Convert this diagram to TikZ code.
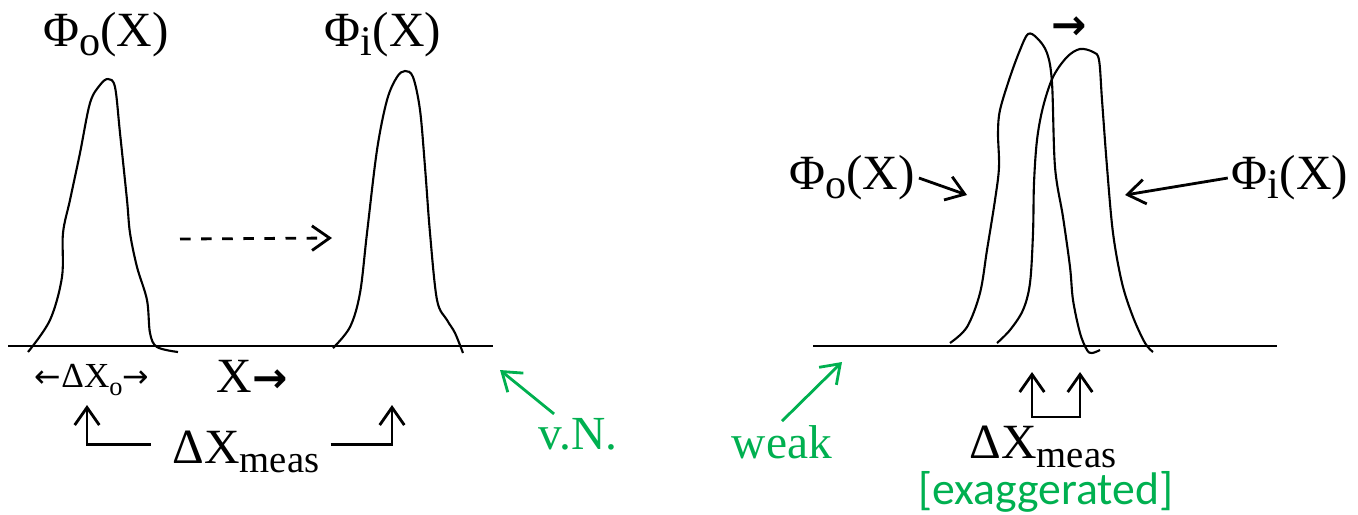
\documentclass[tikz,border=0pt]{standalone}
\usepackage{fontspec}
\setmainfont{Liberation Serif}
\newfontfamily\calfont{Carlito}
\newfontfamily\arrfont{DejaVu Sans}
\usetikzlibrary{arrows.meta,positioning}
\definecolor{notegreen}{RGB}{0,176,80}
\newcommand\lowsub[3]{\raisebox{-#2}{\fontsize{#1}{#1}\selectfont #3}}
\newcommand\bigarr{{\arrfont\bfseries →}}

\begin{document}
\begin{tikzpicture}[x=0.01cm,y=-0.01cm,>={Straight Barb[length=5pt,width=7pt]},
  curve/.style={line width=0.6pt,smooth,tension=0.55},
  axis/.style={line width=0.7pt},
  lbl/.style={inner sep=1pt,font=\fontsize{14}{16}\selectfont},
  small/.style={inner sep=1pt,font=\fontsize{10}{12}\selectfont},
  note/.style={inner sep=1pt,text=notegreen,font=\fontsize{13.5}{16}\selectfont},
  conn/.style={line width=0.8pt,->},
  notearr/.style={line width=0.8pt,->,draw=notegreen}]
  \useasboundingbox (0,0) rectangle (1358,514);
  \draw[axis] (8,346) -- (493,346);
  \draw[axis] (813,346) -- (1277,346);
  \draw[curve] plot coordinates {(28,352) (50,320) (62,277) (63,233) (70,200) (80,153) (90,103) (100,85) (108,79) (115,87) (120,133) (127,200) (130,233) (137,267) (147,300) (150,333) (157,347) (178,352)};
  \draw[curve] plot coordinates {(333,348) (350,327) (360,293) (367,233) (377,150) (387,100) (397,77) (405,71) (413,77) (420,110) (425,167) (430,233) (437,300) (447,320) (455,333) (463,353)};
  \draw[curve] plot coordinates {(950,343) (967,327) (980,293) (987,250) (995,200) (999,167) (998,133) (1000,110) (1010,77) (1020,50) (1028,34) (1037,38) (1047,53) (1052,83) (1055,167) (1063,217) (1070,267) (1073,300) (1080,333) (1087,350) (1092,353) (1100,350)};
  \draw[curve] plot coordinates {(997,343) (1010,330) (1023,310) (1030,283) (1033,233) (1034,183) (1037,140) (1043,107) (1053,77) (1067,57) (1080,49) (1093,52) (1099,60) (1102,100) (1107,167) (1113,233) (1122,283) (1133,317) (1145,343) (1153,352)};
  \node[lbl] (phioL) at (106,35) {Φ\lowsub{12}{2.5pt}{o}(X)};
  \node[lbl] (phiiL) at (383,35) {Φ\lowsub{12}{2.5pt}{i}(X)};
  \node[small] (dxo) at (92,380) {{\arrfont\fontsize{9}{9}\selectfont ←}ΔX\lowsub{7.5}{2pt}{o}{\arrfont\fontsize{9}{9}\selectfont →}};
  \node[lbl] (xaxis) at (252,376) {X{\fontsize{12}{12}\selectfont\bigarr}};
  \node[lbl,anchor=base] (measL) at (246,463) {ΔX\lowsub{11}{2.6pt}{meas}};
  \node[note] (vn) at (578,434) {v.N.};
  \node[lbl] (phioR) at (852,178) {Φ\lowsub{12}{2.5pt}{o}(X)};
  \node[lbl] (phiiR) at (1290,178) {Φ\lowsub{12}{2.5pt}{i}(X)};
  \node[lbl] (shift) at (1069,28) {{\fontsize{12}{12}\selectfont\bigarr}};
  \node[note] (weak) at (782,442) {weak};
  \node[lbl,anchor=base] (measR) at (1043,458) {ΔX\lowsub{11}{2.6pt}{meas}};
  \node[note,font=\calfont\fontsize{13}{15}\selectfont] (exag) at (1046,492) {[exaggerated]};
  \coordinate (dashA) at (180,239);
  \coordinate (dashB) at (332,238);
  \coordinate (upL) at (87,405);
  \coordinate (upR) at (392,405);
  \coordinate (vnTip) at (500,370);
  \coordinate (weakTip) at (842,362);
  \coordinate (tipO) at (967,195);
  \coordinate (tipI) at (1125,195);
  \coordinate (upA) at (1032,372);
  \coordinate (upB) at (1080,372);
  \coordinate (brk) at (1056,417);
  \draw[conn,dashed] (dashA) -- (dashB);
  \draw[conn] ([xshift=-5pt,yshift=2pt]measL.west) -| (upL);
  \draw[conn] ([xshift=2pt,yshift=2pt]measL.east) -| (upR);
  \draw[notearr] (vn.140) -- (vnTip);
  \draw[notearr] (weak.north) -- (weakTip);
  \draw[conn] (phioR.east) -- (tipO);
  \draw[conn] (phiiR.west) -- (tipI);
  \draw[conn,<->] (upA) |- (brk) -| (upB);
\end{tikzpicture}
\end{document}
